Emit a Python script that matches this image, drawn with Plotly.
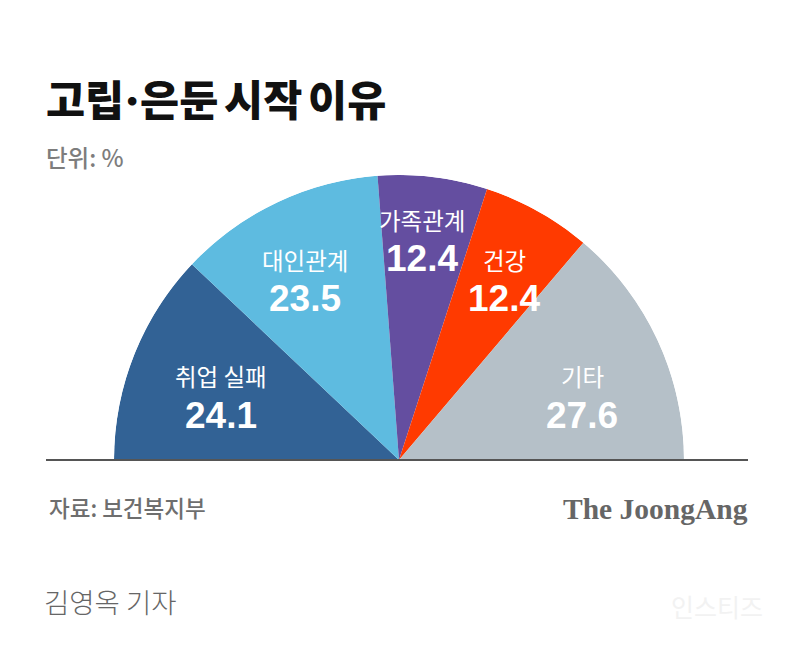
import plotly.graph_objects as go

# the page body has an 8px margin, so the figure starts at (8, 8)
W, H = 792, 640
OFFSET = 8

categories = ["취업 실패", "대인관계", "가족관계", "건강", "기타"]
values = [24.1, 23.5, 12.4, 12.4, 27.6]
colors = ["#326295", "#5ebbe0", "#644ea0", "#ff3a00", "#b5c0c8"]

# centre of each slice label, in page pixels
label_x = [221, 305, 422, 504, 582]
name_y = [376, 260, 220, 260, 376]
value_y = [415, 298, 258, 298, 415]

CX, CY, R = 399, 460, 285
KR = "Noto Sans CJK KR"


def px(x):
    return (x - OFFSET) / W


def py(y):
    return 1 - (y - OFFSET) / H


total = sum(values)
widths = [v / total * 180 for v in values]
thetas = []
start = 0
for w in widths:
    thetas.append(start + w / 2)
    start += w

fig = go.Figure(
    go.Barpolar(
        r=[1] * len(values),
        theta=thetas,
        width=widths,
        marker=dict(color=colors, line=dict(width=0)),
        text=categories,
        hoverinfo="text",
    )
)


def add_text(x, y, text, size, color, anchor="left", weight=400, family=KR):
    fig.add_annotation(
        x=px(x),
        y=py(y),
        xref="paper",
        yref="paper",
        text=text,
        showarrow=False,
        xanchor=anchor,
        yanchor="middle",
        font=dict(size=size, color=color, family=family, weight=weight),
    )


add_text(44, 100, "고립·은둔\u2009시작\u2009이유", 42.5, "#111111", weight=900, family="Inter, " + KR)
add_text(44, 157, "단위: %", 23.5, "#7d7d7d", weight=500)

for x, ny, vy, name, val in zip(label_x, name_y, value_y, categories, values):
    add_text(x, ny, name, 23.5, "#ffffff", anchor="center")
    add_text(x, vy, str(val), 37, "#ffffff", anchor="center", weight=700, family="Liberation Sans")

add_text(47, 507, "자료: 보건복지부", 22.5, "#6e6e6e", weight=500)
add_text(750, 509, "The JoongAng", 29.5, "#666666", anchor="right", weight=700, family="Liberation Serif")
add_text(42, 601, "김영옥 기자", 27.5, "#666666", weight=300)
add_text(765, 606, "인스티즈", 25, "#f2f2f2", anchor="right")

fig.add_shape(
    type="line",
    xref="paper",
    yref="paper",
    x0=px(46),
    x1=px(748),
    y0=py(460),
    y1=py(460),
    line=dict(color="#555555", width=2),
)

fig.update_layout(
    width=W,
    height=H,
    margin=dict(l=0, r=0, t=0, b=0),
    paper_bgcolor="white",
    showlegend=False,
    polar=dict(
        domain=dict(x=[px(CX - R), px(CX + R)], y=[py(CY), py(CY - R)]),
        sector=[0, 180],
        bgcolor="rgba(0,0,0,0)",
        radialaxis=dict(visible=False, range=[0, 1]),
        angularaxis=dict(visible=False, direction="clockwise", rotation=180),
    ),
)

fig.write_html("out.html")
